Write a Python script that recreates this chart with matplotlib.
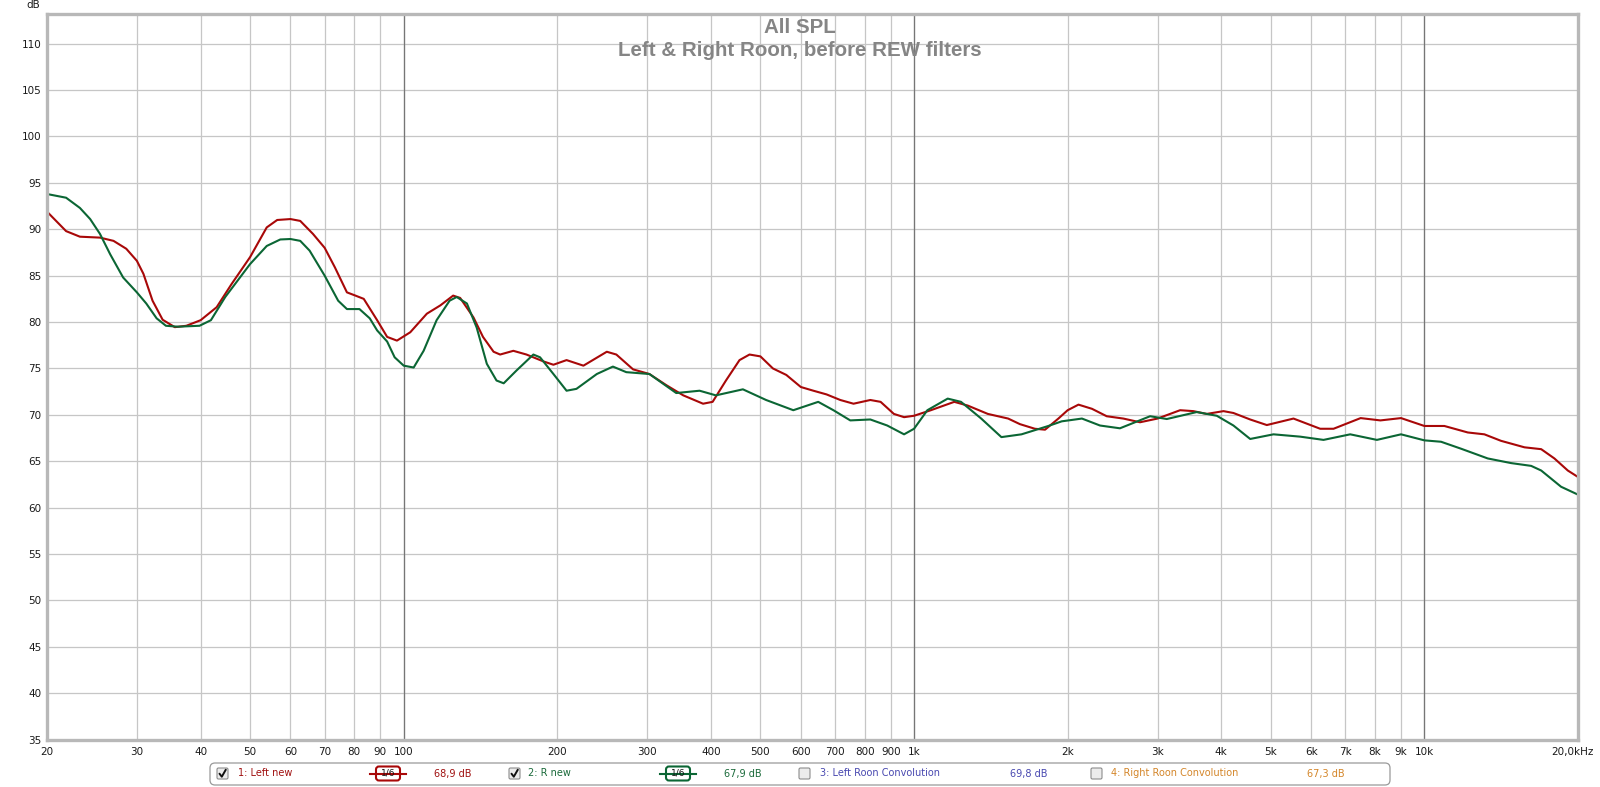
import numpy as np
import matplotlib.pyplot as plt
from matplotlib.patches import FancyBboxPatch
import matplotlib.transforms as mtransforms

W, H = 1600, 787

# ------------------------------
# data
# ------------------------------
left_freq = [20, 21.8, 23.2, 25.4, 27.0, 28.6, 30, 30.9, 32.2, 33.7,
             35.6, 37.5, 40, 43, 46, 50, 53.9, 56.5, 60, 62.7,
             66.4, 70, 73.3, 77.4, 80, 83.5, 88.7, 92.8, 97, 103,
             111, 118, 125, 129, 137, 143, 150, 154.5, 164, 174,
             188, 196.5, 208.5, 225, 250, 261, 281.5, 303, 327, 353,
             386, 403, 428, 455, 476, 500, 529, 562, 600, 635,
             674, 717, 761, 821, 860, 913, 956, 1000, 1079, 1199,
             1274, 1395, 1529, 1612, 1725, 1806, 1918, 2000, 2100, 2232,
             2385, 2571, 2772, 3000, 3322, 3527, 3746, 4040, 4225, 4557,
             4912, 5540, 6250, 6638, 7500, 8200, 9000, 10000, 10944, 12163,
             13110, 14130, 15710, 16940, 17980, 19100, 20000]
left_db = [91.9, 89.8, 89.2, 89.1, 88.75, 87.9, 86.6, 85.2, 82.3, 80.25,
           79.45, 79.6, 80.2, 81.6, 84.1, 87.0, 90.2, 91.0, 91.1, 90.9,
           89.5, 88.0, 85.9, 83.2, 82.9, 82.5, 80.2, 78.4, 78.0, 78.9,
           80.9, 81.8, 82.85, 82.6, 80.5, 78.4, 76.8, 76.5, 76.9, 76.5,
           75.75, 75.4, 75.9, 75.3, 76.8, 76.5, 74.9, 74.4, 73.2, 72.1,
           71.2, 71.4, 73.7, 75.9, 76.5, 76.3, 75.0, 74.3, 73.0, 72.6,
           72.2, 71.6, 71.2, 71.6, 71.4, 70.1, 69.75, 69.9, 70.5, 71.4,
           71.0, 70.1, 69.6, 69.0, 68.5, 68.4, 69.6, 70.5, 71.1, 70.65,
           69.85, 69.6, 69.2, 69.6, 70.5, 70.4, 70.1, 70.4, 70.2, 69.5,
           68.9, 69.6, 68.5, 68.5, 69.65, 69.4, 69.65, 68.8, 68.8, 68.1,
           67.9, 67.2, 66.5, 66.3, 65.3, 64.0, 63.3]

right_freq = [20, 21.8, 23.2, 24.3, 25.4, 26.6, 28.2, 30, 31.3, 32.8,
              34.2, 36.1, 39.8, 41.9, 44.7, 50, 53.9, 57.3, 60, 62.7,
              65.4, 70, 74.4, 77.4, 81.9, 85.8, 88.7, 92.8, 96, 100,
              104.6, 109.4, 116, 123, 127, 133, 139, 145.5, 152, 157,
              166.5, 179.5, 185, 196.5, 208.5, 218, 239, 257, 273, 303,
              342, 380, 409, 462, 513, 580, 649, 695, 750, 821,
              886, 956, 1000, 1062, 1164, 1236, 1354, 1483, 1624, 1833,
              1947, 2133, 2314, 2532, 2901, 3128, 3580, 3920, 4225, 4557,
              5062, 5710, 6344, 7156, 8072, 9000, 10000, 10782, 11800, 13310,
              14790, 16190, 16940, 18530, 20000]
right_db = [93.8, 93.4, 92.3, 91.1, 89.5, 87.3, 84.8, 83.2, 82.0, 80.4,
            79.6, 79.5, 79.6, 80.2, 82.7, 86.25, 88.2, 88.9, 88.95, 88.75,
            87.7, 85.0, 82.3, 81.4, 81.4, 80.4, 79.1, 77.9, 76.2, 75.3,
            75.1, 76.9, 80.2, 82.3, 82.7, 82.0, 79.4, 75.5, 73.7, 73.4,
            74.8, 76.5, 76.2, 74.4, 72.6, 72.8, 74.4, 75.2, 74.6, 74.4,
            72.35, 72.6, 72.1, 72.75, 71.6, 70.5, 71.4, 70.5, 69.4, 69.5,
            68.85, 67.9, 68.5, 70.5, 71.75, 71.4, 69.6, 67.6, 67.9, 68.8,
            69.3, 69.6, 68.85, 68.55, 69.85, 69.55, 70.3, 69.9, 68.85, 67.4,
            67.9, 67.65, 67.3, 67.9, 67.3, 67.9, 67.25, 67.1, 66.35, 65.3,
            64.8, 64.5, 64.0, 62.25, 61.4]

x_ticks = [20, 30, 40, 50, 60, 70, 80, 90, 100, 200, 300, 400, 500, 600, 700,
           800, 900, 1000, 2000, 3000, 4000, 5000, 6000, 7000, 8000, 9000,
           10000, 20000]
x_labels = ["20", "30", "40", "50", "60", "70", "80", "90", "100", "200", "300",
            "400", "500", "600", "700", "800", "900", "1k", "2k", "3k", "4k",
            "5k", "6k", "7k", "8k", "9k", "10k", "20,0kHz"]
decades = [100, 1000, 10000]
y_ticks = [35, 40, 45, 50, 55, 60, 65, 70, 75, 80, 85, 90, 95, 100, 105, 110]

legend_names = ["1: Left new", "2: R new", "3: Left Roon Convolution",
                "4: Right Roon Convolution"]
legend_values = ["68,9 dB", "67,9 dB", "69,8 dB", "67,3 dB"]
legend_checked = [True, True, False, False]

RED = "#a80808"
GREEN = "#0b6634"
legend_colors = ["#a01010", "#1a6a3a", "#4848b0", "#d4862a"]

# ------------------------------
# main graph
# ------------------------------
fig = plt.figure(figsize=(16, 7.87), dpi=100)
ax = fig.add_axes([47 / W, 1 - 739.6 / H, (1578 - 47) / W, (739.6 - 14) / H])
ax.set_xscale("log")
ax.set_xlim(20, 20000)
ax.set_ylim(35, 113.2)

ax.set_xticks(x_ticks)
ax.set_xticklabels(x_labels)
ax.xaxis.set_minor_locator(plt.NullLocator())
ax.set_yticks(y_ticks)
ax.set_axisbelow(True)
ax.grid(True, color="#c6c6c6", lw=0.9)
for d in decades:
    ax.axvline(d, color="#767676", lw=0.9, zorder=1.5)

ax.tick_params(length=0, labelsize=7.5, labelcolor="#1a1a1a")
ax.tick_params(axis="y", pad=4)
ax.tick_params(axis="x", pad=5)
# last label hangs a bit left of the edge
lbl = ax.get_xticklabels()[-1]
lbl.set_transform(lbl.get_transform() + mtransforms.ScaledTranslation(-6 / 100, 0, fig.dpi_scale_trans))

for s in ax.spines.values():
    s.set_color("#b8b8b8")
    s.set_linewidth(2.4)
    s.set_zorder(4)

ax.plot(left_freq, left_db, color=RED, lw=1.5, solid_joinstyle="round", zorder=3)
ax.plot(right_freq, right_db, color=GREEN, lw=1.5, solid_joinstyle="round", zorder=3)

fig.text(40 / W, 1 - 5.5 / H, "dB", ha="right", va="center", fontsize=7.5, color="#1a1a1a")

fig.text(0.5, 1 - 33 / H, "All SPL", ha="center", va="baseline", fontsize=14.8,
         fontweight="bold", color="#858585", family="Liberation Sans")
fig.text(0.5, 1 - 56 / H, "Left & Right Roon, before REW filters", ha="center",
         va="baseline", fontsize=14.8, fontweight="bold", color="#858585",
         family="Liberation Sans")

# ------------------------------
# legend strip (pixel coords overlay)
# ------------------------------
lg = fig.add_axes([0, 0, 1, 1], zorder=5)
lg.set_xlim(0, W)
lg.set_ylim(H, 0)
lg.axis("off")
lg.patch.set_alpha(0)

lg.add_patch(FancyBboxPatch((210, 763), 1180, 22, boxstyle="round,pad=0,rounding_size=5",
                            fc="white", ec="#9a9a9a", lw=0.9))

yc = 773.5
box_x = [217, 509, 799, 1091]
name_x = [238, 528, 820, 1111]
val_x = [434, 724, 1010, 1307]
icon_x = [(370, 406), (660, 696)]

for i in range(4):
    bx = box_x[i]
    lg.add_patch(FancyBboxPatch((bx, yc - 5.5), 11, 11, boxstyle="round,pad=0,rounding_size=1.5",
                                fc="#ececec", ec="#8c8c8c", lw=0.8))
    if legend_checked[i]:
        lg.plot([bx + 2.5, bx + 4.8, bx + 8.8], [yc + 0.2, yc + 3.2, yc - 3.8],
                color="#111111", lw=1.4, solid_capstyle="round")
    lg.text(name_x[i], yc, legend_names[i], ha="left", va="center", fontsize=7,
            color=legend_colors[i])
    lg.text(val_x[i], yc, legend_values[i], ha="left", va="center", fontsize=7,
            color=legend_colors[i])

for (x0, x1), c in zip(icon_x, [RED, GREEN]):
    lg.plot([x0, x1], [yc, yc], color=c, lw=1.5)
    lg.add_patch(FancyBboxPatch((x0 + 6, yc - 7), x1 - x0 - 12, 14,
                                boxstyle="round,pad=0,rounding_size=3",
                                fc="white", ec=c, lw=1.5))
    lg.text((x0 + x1) / 2, yc, "1/6", ha="center", va="center", fontsize=6.5, color="#111111")

fig.savefig("out.png", dpi=100)
